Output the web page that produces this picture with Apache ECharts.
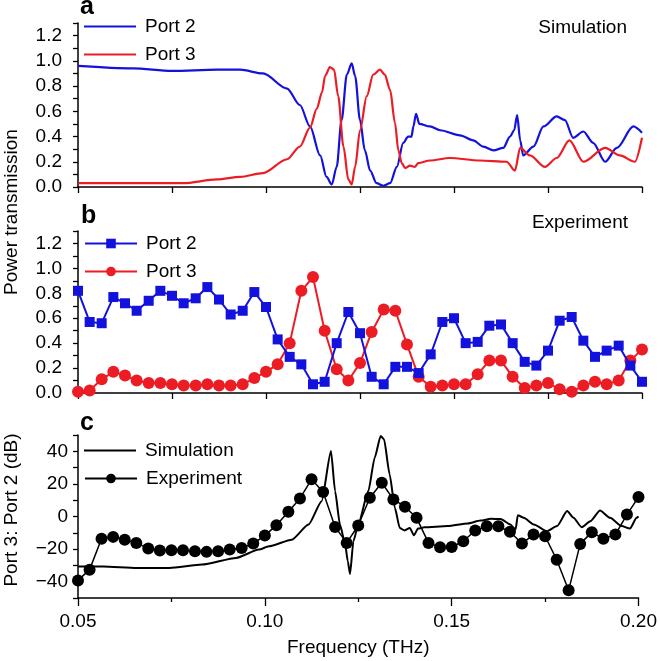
<!DOCTYPE html>
<html>
<head>
<meta charset="UTF-8">
<title>Port transmission</title>
<script src="https://cdn.jsdelivr.net/npm/echarts@6/dist/echarts.min.js"></script>
<style>
  html, body { margin: 0; padding: 0; background: #fff; }
  #main { width: 660px; height: 661px; }
</style>
</head>
<body>
<div id="main"></div>
<script>
// panel a: simulation
var simFreq2 = [0.05,0.0646,0.075,0.087,0.0931,0.0992,0.1056,0.109,0.1117,0.1144,0.1161,0.1175,0.1188,0.1201,0.1215,0.1228,0.1237,0.125,0.1263,0.1277,0.1294,0.1312,0.133,0.1348,0.1365,0.1378,0.1387,0.1392,0.1399,0.1408,0.1436,0.1463,0.1516,0.1551,0.1578,0.1605,0.1631,0.1649,0.166,0.1668,0.1676,0.1684,0.1711,0.1738,0.1773,0.1795,0.1817,0.1844,0.187,0.1902,0.1933,0.1977,0.2];
var simPort2 = [0.96,0.94,0.92,0.93,0.93,0.90,0.78,0.65,0.48,0.25,0.08,0.02,0.16,0.53,0.89,0.98,0.88,0.53,0.29,0.13,0.03,0.01,0.03,0.16,0.35,0.40,0.40,0.48,0.58,0.50,0.48,0.45,0.41,0.37,0.32,0.29,0.31,0.40,0.45,0.57,0.37,0.25,0.32,0.48,0.56,0.53,0.39,0.44,0.35,0.20,0.31,0.48,0.43];
var simFreq3 = [0.05,0.0779,0.087,0.0931,0.0992,0.1056,0.109,0.1117,0.1135,0.1149,0.1157,0.117,0.1181,0.1192,0.1206,0.1219,0.1228,0.1237,0.125,0.1268,0.1285,0.1303,0.1316,0.133,0.1343,0.1352,0.1361,0.137,0.1383,0.1396,0.1405,0.1436,0.1489,0.1569,0.164,0.1662,0.1676,0.1702,0.1742,0.1773,0.1807,0.1844,0.1902,0.1941,0.1981,0.2];
var simPort3 = [0.03,0.03,0.06,0.08,0.11,0.22,0.32,0.47,0.62,0.75,0.88,0.95,0.93,0.72,0.32,0.06,0.02,0.16,0.45,0.72,0.89,0.93,0.89,0.77,0.51,0.29,0.19,0.15,0.17,0.16,0.19,0.21,0.23,0.21,0.20,0.13,0.31,0.25,0.16,0.23,0.37,0.20,0.31,0.25,0.20,0.39];

// panel b: experiment
var expFreq = [0.05,0.0531,0.0563,0.0594,0.0625,0.0656,0.0688,0.0719,0.075,0.0781,0.0813,0.0844,0.0875,0.0906,0.0938,0.0969,0.1,0.1031,0.1063,0.1094,0.1125,0.1156,0.1188,0.1219,0.125,0.1281,0.1313,0.1344,0.1375,0.1406,0.1438,0.1469,0.15,0.1531,0.1563,0.1594,0.1625,0.1656,0.1688,0.1719,0.175,0.1781,0.1813,0.1844,0.1875,0.1906,0.1938,0.1969,0.2];
var expPort2 = [0.82,0.57,0.56,0.77,0.72,0.66,0.74,0.82,0.78,0.72,0.76,0.85,0.75,0.63,0.66,0.81,0.69,0.43,0.29,0.23,0.07,0.09,0.40,0.65,0.48,0.13,0.07,0.21,0.21,0.16,0.31,0.57,0.60,0.40,0.41,0.54,0.55,0.40,0.25,0.22,0.34,0.58,0.61,0.42,0.29,0.34,0.38,0.22,0.09];
var expPort3 = [0.01,0.02,0.11,0.17,0.14,0.10,0.08,0.08,0.07,0.06,0.06,0.07,0.06,0.06,0.07,0.12,0.17,0.23,0.40,0.82,0.93,0.50,0.19,0.10,0.24,0.49,0.67,0.66,0.39,0.13,0.05,0.06,0.07,0.07,0.15,0.26,0.26,0.13,0.04,0.06,0.08,0.03,0.01,0.06,0.09,0.07,0.10,0.26,0.35];

// panel c: Port 3 : Port 2 ratio in dB
var simDbFreq = [0.05,0.0567,0.0657,0.0745,0.0832,0.0923,0.0984,0.1011,0.1072,0.1117,0.1152,0.1177,0.1188,0.1201,0.1215,0.1222,0.1228,0.1237,0.125,0.1277,0.1294,0.131,0.1319,0.1334,0.1348,0.1361,0.1374,0.1388,0.1399,0.141,0.1427,0.1489,0.1543,0.1577,0.1605,0.1631,0.1657,0.1671,0.1677,0.1693,0.172,0.1755,0.1782,0.1809,0.1826,0.1848,0.1871,0.1897,0.1924,0.1955,0.1977,0.1995,0.2];
var simDb = [-30.6,-30.6,-31.6,-31.6,-29.5,-25.4,-20.3,-18.3,-14.2,-4.9,9.4,40.2,15.6,-4.9,-17.2,-27.5,-35.3,-15.2,-4.9,15.6,36.1,49.4,47.4,25.8,5.3,-7.0,-8.6,-7.0,-11.5,-7.4,-6.6,-5.9,-4.3,-2.5,-1.4,-1.6,-4.9,-8.0,0.8,-0.8,-4.9,-9.0,-5.9,3.3,-0.8,-6.6,-2.9,3.7,-0.8,-5.9,-7.4,-0.8,0];
var expDb = [-39.2,-32.6,-13.7,-12.5,-14.2,-16.2,-19.7,-20.9,-20.7,-20.7,-21.3,-21.7,-21.3,-20.3,-19.3,-16.6,-11.7,-5.3,2.9,11.1,22.8,15.0,-6.4,-16.2,-5.5,11.5,20.7,10.5,6.0,-0.8,-16.2,-18.9,-18.7,-15.2,-8.6,-6.0,-6.0,-9.4,-16.6,-11.1,-12.1,-26.5,-45.3,-16.8,-9.6,-13.7,-11.1,1.2,11.9];

var FONT = '"Liberation Sans", Arial, Helvetica, sans-serif';
var BLUE = '#1212dc';
var RED = '#ec1c24';

function zip(xs, ys) {
  return xs.map(function (x, i) { return [x, ys[i]]; });
}
function isMult(v, step) {
  return Math.abs(v / step - Math.round(v / step)) < 1e-6;
}

var names = { sim2: 'Port 2', sim3: 'Port 3', exp2: 'Port 2', exp3: 'Port 3', simdb: 'Simulation', expdb: 'Experiment' };
var axisLine = { show: true, onZero: false, lineStyle: { color: '#000', width: 1.5 } };
var tickStyle = { color: '#000', width: 1.3 };

function xAxisFor(idx, withLabels) {
  var ax = {
    type: 'value', gridIndex: idx, min: 0.05, max: 0.2,
    interval: withLabels ? 0.05 : 0.025,
    axisLine: axisLine,
    axisTick: { show: true, length: withLabels ? 8 : 6, lineStyle: tickStyle },
    splitLine: { show: false },
    axisLabel: { show: withLabels, fontSize: 19, fontFamily: FONT, color: '#000', margin: 14,
      formatter: function (v) { return v.toFixed(2); } }
  };
  if (withLabels) {
    ax.minorTick = { show: true, splitNumber: 2, length: 4, lineStyle: tickStyle };
    ax.name = 'Frequency (THz)';
    ax.nameLocation = 'middle';
    ax.nameGap = 40;
    ax.nameTextStyle = { fontSize: 19, fontFamily: FONT, color: '#000' };
  }
  return ax;
}

function yAxisPow(idx) {
  return {
    type: 'value', gridIndex: idx, min: 0, max: 1.3, interval: 0.1,
    axisLine: axisLine,
    axisTick: { show: true, length: 5, lineStyle: tickStyle },
    splitLine: { show: false },
    axisLabel: { fontSize: 19, fontFamily: FONT, color: '#000', margin: 16,
      formatter: function (v) { return (isMult(v, 0.2) && v < 1.25) ? v.toFixed(1) : ''; } }
  };
}

// one legend per block; plain-line entries use a thin rect icon
function legendAt(top, data, lineOnly) {
  var lg = {
    orient: 'vertical', left: 84, top: top, padding: 0, itemWidth: 52, itemHeight: 12, itemGap: 9,
    selectedMode: false, data: data,
    formatter: function (n) { return names[n]; },
    textStyle: { fontSize: 19, fontFamily: FONT, color: '#000', lineHeight: 19, padding: [0, 0, 0, 4] }
  };
  if (lineOnly) {
    lg.icon = 'rect';
    lg.itemHeight = 2;
  }
  return lg;
}

var chart = echarts.init(document.getElementById('main'));
chart.setOption({
  animation: false,
  backgroundColor: '#fff',
  grid: [
    { left: 78, right: 18, top: 23, height: 164 },
    { left: 78, right: 18, top: 231, height: 162 },
    { left: 78, right: 18, top: 435, height: 163 }
  ],
  xAxis: [xAxisFor(0, false), xAxisFor(1, false), xAxisFor(2, true)],
  yAxis: [
    yAxisPow(0),
    yAxisPow(1),
    {
      type: 'value', gridIndex: 2, min: -50, max: 50, interval: 10,
      axisLine: axisLine,
      axisTick: { show: true, length: 5, lineStyle: tickStyle },
      splitLine: { show: false },
      axisLabel: { fontSize: 19, fontFamily: FONT, color: '#000', margin: 10,
        formatter: function (v) {
          if (!isMult(v, 20) || Math.abs(v) > 45) return '';
          return v < 0 ? '\u2212' + Math.abs(v) : String(v);
        } }
    }
  ],
  legend: [
    legendAt(17, ['sim2', 'sim3'], true),
    legendAt(234, ['exp2', 'exp3'], false),
    legendAt(441, ['simdb'], true),
    legendAt(469, ['expdb'], false)
  ],
  graphic: [
    { type: 'text', x: 80, y: 7, style: { text: 'a', font: 'bold 25px ' + FONT, fill: '#000', textVerticalAlign: 'middle' } },
    { type: 'text', x: 81, y: 216, style: { text: 'b', font: 'bold 25px ' + FONT, fill: '#000', textVerticalAlign: 'middle' } },
    { type: 'text', x: 80, y: 423, style: { text: 'c', font: 'bold 25px ' + FONT, fill: '#000', textVerticalAlign: 'middle' } },
    { type: 'text', x: 627, y: 28, style: { text: 'Simulation', font: '19px ' + FONT, fill: '#000', textAlign: 'right', textVerticalAlign: 'middle' } },
    { type: 'text', x: 628, y: 223, style: { text: 'Experiment', font: '19px ' + FONT, fill: '#000', textAlign: 'right', textVerticalAlign: 'middle' } },
    { type: 'text', x: 12, y: 212, rotation: Math.PI / 2, style: { text: 'Power transmission', font: '19px ' + FONT, fill: '#000', textAlign: 'center', textVerticalAlign: 'middle' } },
    { type: 'text', x: 12, y: 510, rotation: Math.PI / 2, style: { text: 'Port 3: Port 2 (dB)', font: '19px ' + FONT, fill: '#000', textAlign: 'center', textVerticalAlign: 'middle' } }
  ],
  series: [
    { name: 'sim2', type: 'line', xAxisIndex: 0, yAxisIndex: 0, data: zip(simFreq2, simPort2),
      symbol: 'none', smooth: 0.3, smoothMonotone: 'x', color: BLUE, lineStyle: { color: BLUE, width: 2.2 } },
    { name: 'sim3', type: 'line', xAxisIndex: 0, yAxisIndex: 0, data: zip(simFreq3, simPort3),
      symbol: 'none', smooth: 0.3, smoothMonotone: 'x', color: RED, lineStyle: { color: RED, width: 2.2 } },
    { name: 'exp2', type: 'line', xAxisIndex: 1, yAxisIndex: 1, data: zip(expFreq, expPort2), z: 3,
      symbol: 'rect', symbolSize: 10, color: BLUE, itemStyle: { color: BLUE }, lineStyle: { color: BLUE, width: 2 } },
    { name: 'exp3', type: 'line', xAxisIndex: 1, yAxisIndex: 1, data: zip(expFreq, expPort3), z: 2,
      symbol: 'circle', symbolSize: 12, color: RED, itemStyle: { color: RED }, lineStyle: { color: RED, width: 2 } },
    { name: 'simdb', type: 'line', xAxisIndex: 2, yAxisIndex: 2, data: zip(simDbFreq, simDb),
      symbol: 'none', smooth: 0.2, smoothMonotone: 'x', color: '#000', lineStyle: { color: '#000', width: 2 } },
    { name: 'expdb', type: 'line', xAxisIndex: 2, yAxisIndex: 2, data: zip(expFreq, expDb),
      symbol: 'circle', symbolSize: 12, color: '#000', itemStyle: { color: '#000' }, lineStyle: { color: '#000', width: 1.5 } }
  ]
});
</script>
</body>
</html>
